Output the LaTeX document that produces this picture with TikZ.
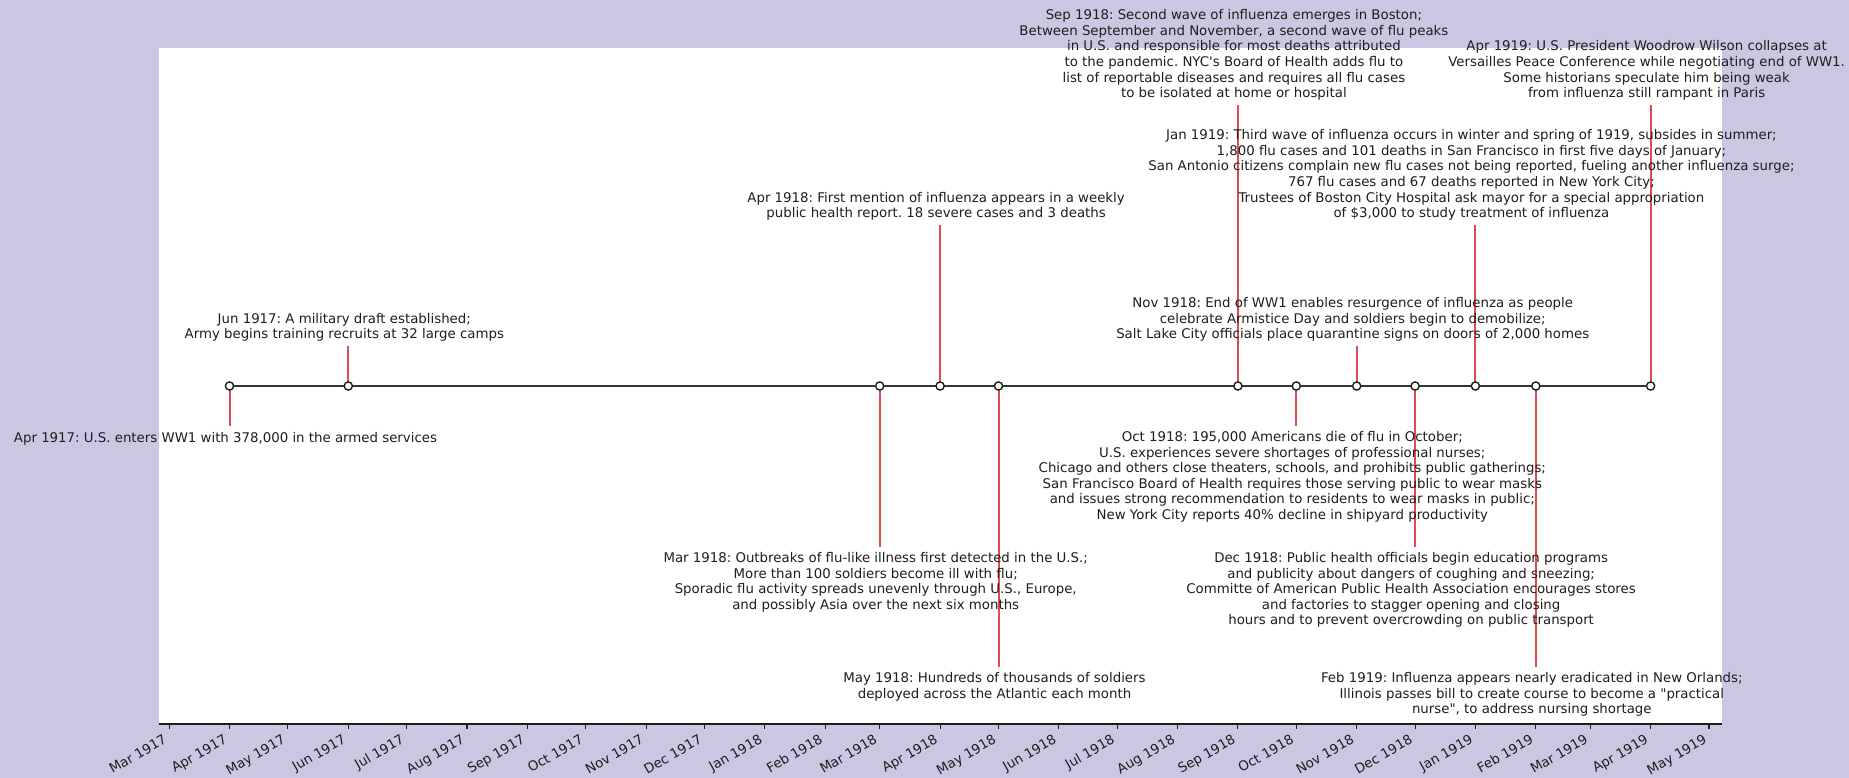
\documentclass[tikz,border=0pt]{standalone}
\usepackage{fontspec}
\setmainfont{DejaVu Sans}
\usetikzlibrary{positioning}
\definecolor{lav}{RGB}{203,199,227}
\definecolor{stemred}{RGB}{222,76,80}
\definecolor{inkgray}{RGB}{30,30,30}
\tikzset{
  evt_txt/.style = {align=center, inner sep=0pt, text=inkgray,
    font=\fontsize{13.33}{15.6}\selectfont,
    execute at begin node=\strut, execute at end node=\strut},
  evt_up/.style = {evt_txt, xshift=-4pt},% label above the line
  evt_dn/.style = {evt_txt, xshift=-4pt},% label below the line
  tl_stem/.style = {stemred, line width=2pt},
  tl_line/.style = {inkgray!90, line width=2.6pt},
  tl_dot/.style = {circle, draw=inkgray, fill=white, line width=1.4pt,
    inner sep=0pt, minimum size=8.2pt},
  tick_lbl/.style = {rotate=30, anchor=north east, inner sep=0pt,
    text height=10.1pt, text depth=3.2pt, text=inkgray,
    font=\fontsize{13.33}{15.6}\selectfont}
}
\frenchspacing

\begin{document}
\begin{tikzpicture}[x=1pt, y=-1pt]
\fill[lav] (0,0) rectangle (1849,778);
\useasboundingbox (0,0) rectangle (1849,778);
\fill[white] (158.5,47.7) rectangle (1721.7,724);
\draw[inkgray, line width=1.2pt] (158.5,724) -- (1721.7,724);

% month ticks
\foreach \x/\m [count=\i] in {169.2/Mar 1917, 229.5/Apr 1917, 287.9/May 1917,
    348.3/Jun 1917, 406.7/Jul 1917, 467.0/Aug 1917, 527.4/Sep 1917,
    585.8/Oct 1917, 646.1/Nov 1917, 704.5/Dec 1917, 764.9/Jan 1918,
    825.2/Feb 1918, 879.7/Mar 1918, 940.1/Apr 1918, 998.5/May 1918,
    1058.8/Jun 1918, 1117.2/Jul 1918, 1177.6/Aug 1918, 1237.9/Sep 1918,
    1296.3/Oct 1918, 1356.7/Nov 1918, 1415.1/Dec 1918, 1475.4/Jan 1919,
    1535.8/Feb 1919, 1590.3/Mar 1919, 1650.6/Apr 1919, 1709.0/May 1919}
{
  \draw[inkgray, line width=1.1pt] (\x,724) -- (\x,729);
  \node[tick_lbl] (tk\i) at (\x-6.6,733.3) {\m};
}

% events on the line and tips of the stems
\coordinate (apr17) at (229.5,386);   \coordinate (apr17e) at (229.5,426);
\coordinate (jun17) at (348.3,386);   \coordinate (jun17e) at (348.3,346);
\coordinate (mar18) at (879.7,386);   \coordinate (mar18e) at (879.7,547);
\coordinate (apr18) at (940.1,386);   \coordinate (apr18e) at (940.1,225);
\coordinate (may18) at (998.5,386);   \coordinate (may18e) at (998.5,667);
\coordinate (sep18) at (1237.9,386);  \coordinate (sep18e) at (1237.9,105);
\coordinate (oct18) at (1296.3,386);  \coordinate (oct18e) at (1296.3,426);
\coordinate (nov18) at (1356.7,386);  \coordinate (nov18e) at (1356.7,346);
\coordinate (dec18) at (1415.1,386);  \coordinate (dec18e) at (1415.1,547);
\coordinate (jan19) at (1475.4,386);  \coordinate (jan19e) at (1475.4,225);
\coordinate (feb19) at (1535.8,386);  \coordinate (feb19e) at (1535.8,667);
\coordinate (apr19) at (1650.6,386);  \coordinate (apr19e) at (1650.6,105);

\draw[tl_stem] (apr17) -- (apr17e);
\draw[tl_stem] (jun17) -- (jun17e);
\draw[tl_stem] (mar18) -- (mar18e);
\draw[tl_stem] (apr18) -- (apr18e);
\draw[tl_stem] (may18) -- (may18e);
\draw[tl_stem] (sep18) -- (sep18e);
\draw[tl_stem] (oct18) -- (oct18e);
\draw[tl_stem] (nov18) -- (nov18e);
\draw[tl_stem] (dec18) -- (dec18e);
\draw[tl_stem] (jan19) -- (jan19e);
\draw[tl_stem] (feb19) -- (feb19e);
\draw[tl_stem] (apr19) -- (apr19e);

\draw[tl_line] (apr17) -- (apr19);

\node[tl_dot] (apr17d) at (apr17) {};
\node[tl_dot] (jun17d) at (jun17) {};
\node[tl_dot] (mar18d) at (mar18) {};
\node[tl_dot] (apr18d) at (apr18) {};
\node[tl_dot] (may18d) at (may18) {};
\node[tl_dot] (sep18d) at (sep18) {};
\node[tl_dot] (oct18d) at (oct18) {};
\node[tl_dot] (nov18d) at (nov18) {};
\node[tl_dot] (dec18d) at (dec18) {};
\node[tl_dot] (jan19d) at (jan19) {};
\node[tl_dot] (feb19d) at (feb19) {};
\node[tl_dot] (apr19d) at (apr19) {};

\node[evt_dn, below=5.2pt of apr17e] (apr17t)
  {Apr 1917: U.S. enters WW1 with 378,000 in the armed services};
\node[evt_up, above=2.4pt of jun17e] (jun17t)
  {Jun 1917: A military draft established;\\
   Army begins training recruits at 32 large camps};
\node[evt_dn, below=5.2pt of mar18e] (mar18t)
  {Mar 1918: Outbreaks of flu-like illness first detected in the U.S.;\\
   More than 100 soldiers become ill with flu;\\
   Sporadic flu activity spreads unevenly through U.S., Europe,\\
   and possibly Asia over the next six months};
\node[evt_up, above=2.4pt of apr18e] (apr18t)
  {Apr 1918: First mention of influenza appears in a weekly\\
   public health report. 18 severe cases and 3 deaths};
\node[evt_dn, below=5.2pt of may18e] (may18t)
  {May 1918: Hundreds of thousands of soldiers\\
   deployed across the Atlantic each month};
\node[evt_up, above=2.4pt of sep18e] (sep18t)
  {Sep 1918: Second wave of influenza emerges in Boston;\\
   Between September and November, a second wave of flu peaks\\
   in U.S. and responsible for most deaths attributed\\
   to the pandemic. NYC\textquotesingle s Board of Health adds flu to\\
   list of reportable diseases and requires all flu cases\\
   to be isolated at home or hospital};
\node[evt_dn, below=5.2pt of oct18e] (oct18t)
  {Oct 1918: 195,000 Americans die of flu in October;\\
   U.S. experiences severe shortages of professional nurses;\\
   Chicago and others close theaters, schools, and prohibits public gatherings;\\
   San Francisco Board of Health requires those serving public to wear masks\\
   and issues strong recommendation to residents to wear masks in public;\\
   New York City reports 40\% decline in shipyard productivity};
\node[evt_up, above=2.4pt of nov18e] (nov18t)
  {Nov 1918: End of WW1 enables resurgence of influenza as people\\
   celebrate Armistice Day and soldiers begin to demobilize;\\
   Salt Lake City officials place quarantine signs on doors of 2,000 homes};
\node[evt_dn, below=5.2pt of dec18e] (dec18t)
  {Dec 1918: Public health officials begin education programs\\
   and publicity about dangers of coughing and sneezing;\\
   Committe of American Public Health Association encourages stores\\
   and factories to stagger opening and closing\\
   hours and to prevent overcrowding on public transport};
\node[evt_up, above=2.4pt of jan19e] (jan19t)
  {Jan 1919: Third wave of influenza occurs in winter and spring of 1919, subsides in summer;\\
   1,800 flu cases and 101 deaths in San Francisco in first five days of January;\\
   San Antonio citizens complain new flu cases not being reported, fueling another influenza surge;\\
   767 flu cases and 67 deaths reported in New York City;\\
   Trustees of Boston City Hospital ask mayor for a special appropriation\\
   of \$3,000 to study treatment of influenza};
\node[evt_dn, below=5.2pt of feb19e] (feb19t)
  {Feb 1919: Influenza appears nearly eradicated in New Orlands;\\
   Illinois passes bill to create course to become a \textquotedbl practical\\
   nurse\textquotedbl, to address nursing shortage};
\node[evt_up, above=2.4pt of apr19e] (apr19t)
  {Apr 1919: U.S. President Woodrow Wilson collapses at\\
   Versailles Peace Conference while negotiating end of WW1.\\
   Some historians speculate him being weak\\
   from influenza still rampant in Paris};
\end{tikzpicture}
\end{document}
